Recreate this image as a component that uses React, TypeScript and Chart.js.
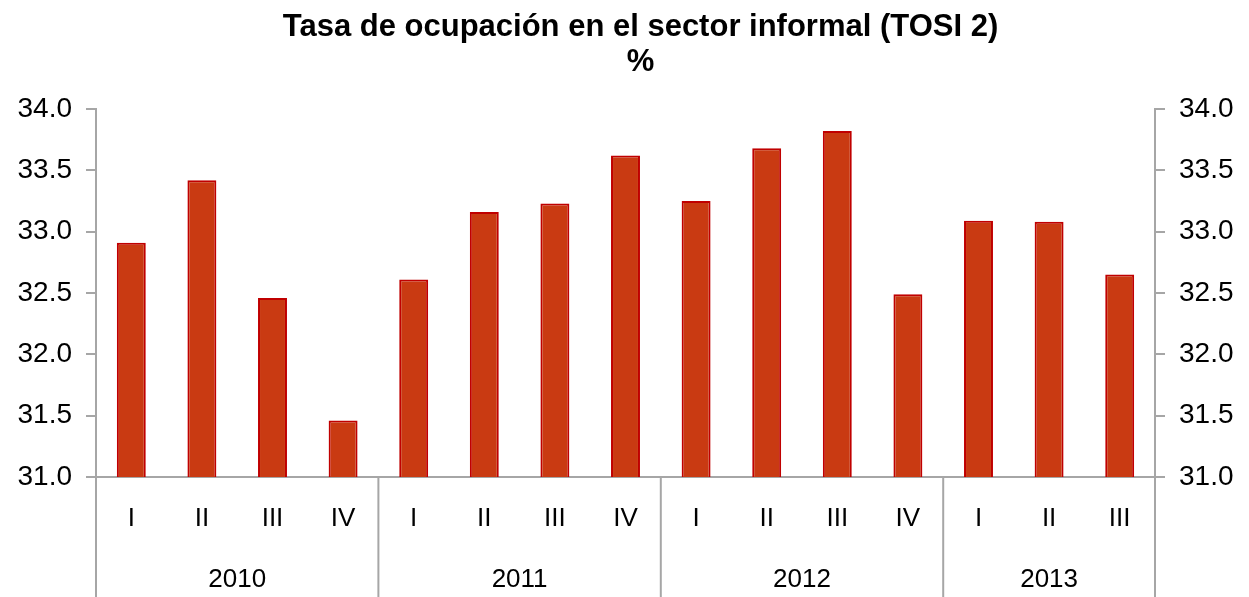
import React, { useEffect, useRef } from "react";
import { Chart, registerables } from "chart.js";

Chart.register(...registerables);

const titleLines = ["Tasa de ocupación en el sector informal (TOSI 2)", "%"];
const quarters = ["I", "II", "III", "IV", "I", "II", "III", "IV", "I", "II", "III", "IV", "I", "II", "III"];
const years = ["2010", "2011", "2012", "2013"];
const yearCounts = [4, 4, 4, 3];
const values = [32.91, 33.42, 32.46, 31.46, 32.61, 33.16, 33.23, 33.62, 33.25, 33.68, 33.82, 32.49, 33.09, 33.08, 32.65];

const FONT = "'Liberation Sans', Arial, Helvetica, sans-serif";
const AXIS = "#A6A6A6";

const groupPlugin = {
  id: "groupPlugin",
  afterDraw(chart: any) {
    const ctx = chart.ctx;
    const x = chart.scales.x;
    const area = chart.chartArea;
    ctx.save();
    // title
    ctx.fillStyle = "#000";
    ctx.textAlign = "center";
    ctx.textBaseline = "middle";
    ctx.font = `bold 31px ${FONT}`;
    const tx = chart.width / 2 + 16;
    titleLines.forEach((t, i) => ctx.fillText(t, tx, 27 + i * 35));

    // separators and year labels
    ctx.strokeStyle = AXIS;
    ctx.lineWidth = 2;
    ctx.font = `26px ${FONT}`;
    let start = 0;
    const edge = (s: number) => {
      if (s <= 0) return area.left;
      if (s >= quarters.length) return area.right;
      return (x.getPixelForValue(s - 1) + x.getPixelForValue(s)) / 2;
    };
    yearCounts.forEach((n, g) => {
      const l = edge(start);
      const r = edge(start + n);
      ctx.beginPath();
      ctx.moveTo(l, area.bottom);
      ctx.lineTo(l, chart.height);
      ctx.stroke();
      if (g === yearCounts.length - 1) {
        ctx.beginPath();
        ctx.moveTo(r, area.bottom);
        ctx.lineTo(r, chart.height);
        ctx.stroke();
      }
      ctx.fillText(years[g], (l + r) / 2, area.bottom + 103);
      start += n;
    });
    ctx.restore();
  },
};

export default function App() {
  const ref = useRef<HTMLCanvasElement | null>(null);
  useEffect(() => {
    document.body.style.margin = "0";
    const yTicks = {
      stepSize: 0.5,
      color: "#000",
      font: { size: 28, family: FONT },
      padding: 14,
      callback: (v: any) => Number(v).toFixed(1),
    };
    const yGrid = { drawOnChartArea: false, tickLength: 10, color: AXIS, lineWidth: 2 };
    const chart = new Chart(ref.current as HTMLCanvasElement, {
      type: "bar",
      data: {
        labels: quarters,
        datasets: [
          {
            data: values,
            backgroundColor: "#C93A12",
            borderColor: "#C00000",
            borderWidth: 2,
            barPercentage: 0.41,
            categoryPercentage: 1,
            yAxisID: "y",
          },
        ],
      },
      options: {
        responsive: false,
        animation: false,
        devicePixelRatio: 1,
        layout: { padding: { top: 109, left: 0, right: 0, bottom: 0 } },
        plugins: { legend: { display: false }, title: { display: false }, tooltip: { enabled: false } },
        scales: {
          x: {
            ticks: { color: "#000", font: { size: 26, family: FONT }, padding: 26, maxRotation: 0, autoSkip: false },
            grid: { display: false, drawTicks: false },
            border: { display: true, color: AXIS, width: 2 },
            afterFit: (s: any) => {
              s.height = 120;
            },
          },
          y: {
            position: "left",
            min: 31,
            max: 34,
            ticks: yTicks,
            grid: yGrid,
            border: { display: true, color: AXIS, width: 2 },
            afterFit: (s: any) => {
              s.width = 96;
            },
          },
          y2: {
            position: "right",
            display: true,
            min: 31,
            max: 34,
            ticks: yTicks,
            grid: yGrid,
            border: { display: true, color: AXIS, width: 2 },
            afterFit: (s: any) => {
              s.width = 94;
            },
          },
        },
      } as any,
      plugins: [groupPlugin],
    });
    return () => chart.destroy();
  }, []);
  return (
    <div style={{ width: 1249, height: 597 }}>
      <canvas ref={ref} width={1249} height={597} />
    </div>
  );
}
